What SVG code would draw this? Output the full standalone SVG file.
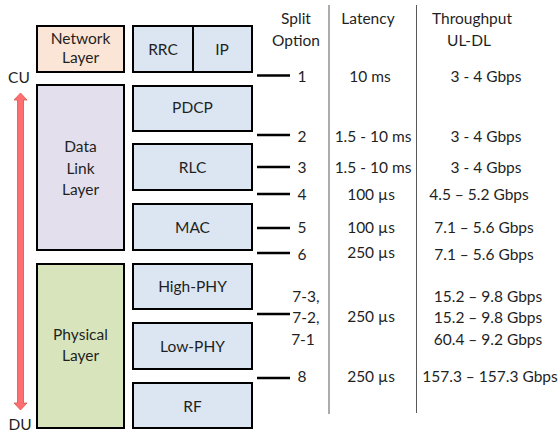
<svg xmlns="http://www.w3.org/2000/svg" width="560" height="435" viewBox="0 0 560 435">
<style>
text{font-family:Lato,"Liberation Sans",sans-serif;font-size:15.5px;fill:#1f1f1f;text-anchor:middle}
.box{stroke:#000;stroke-width:2}
.blue{fill:#dce6f2}
.split{stroke:#000;stroke-width:2.5}
.col{stroke:#595959;stroke-width:1}
</style>
<rect width="560" height="435" fill="#fff"/>
<g id="network-layer"><rect class="box" x="37" y="26" width="87" height="46" fill="#fbe5d6"/><text x="80.5" y="44">Network</text><text x="80.5" y="63">Layer</text></g>
<g id="data-link-layer"><rect class="box" x="37" y="85" width="87" height="165" fill="#e4dfec"/><text x="80.5" y="152">Data</text><text x="80.5" y="174">Link</text><text x="80.5" y="195">Layer</text></g>
<g id="physical-layer"><rect class="box" x="37" y="264" width="87" height="164" fill="#d8e4bc"/><text x="80.5" y="340">Physical</text><text x="80.5" y="361">Layer</text></g>
<g id="rrc-ip"><rect class="box blue" x="133" y="26" width="119" height="46"/><line x1="193" y1="26" x2="193" y2="72" stroke="#000" stroke-width="2"/><text x="163" y="55">RRC</text><text x="222" y="55">IP</text></g>
<g id="pdcp"><rect class="box blue" x="133" y="86" width="119" height="45"/><text x="192.5" y="113">PDCP</text></g>
<g id="rlc"><rect class="box blue" x="133" y="144" width="119" height="46"/><text x="192.5" y="173">RLC</text></g>
<g id="mac"><rect class="box blue" x="133" y="204" width="119" height="46"/><text x="192.5" y="233">MAC</text></g>
<g id="high-phy"><rect class="box blue" x="133" y="264" width="119" height="45"/><text x="192.5" y="292">High-PHY</text></g>
<g id="low-phy"><rect class="box blue" x="133" y="323" width="119" height="46"/><text x="192.5" y="352">Low-PHY</text></g>
<g id="rf"><rect class="box blue" x="133" y="383" width="119" height="45"/><text x="192.5" y="412">RF</text></g>
<g id="cu-du"><text x="19" y="83">CU</text><text x="20" y="430">DU</text>
<path d="M17.5 100 L14 100 L20.5 93 L27 100 L23.5 100 L23.5 403 L27 403 L20.5 410 L14 403 L17.5 403 Z" fill="#ff6f72" stroke="#d9534f" stroke-width="0.8"/></g>
<g id="connectors">
<line class="split" x1="257" y1="75.5" x2="290" y2="75.5"/>
<line class="split" x1="257" y1="135" x2="290" y2="135"/>
<line class="split" x1="257" y1="167" x2="290" y2="167"/>
<line class="split" x1="257" y1="194" x2="290" y2="194"/>
<line class="split" x1="257" y1="228" x2="290" y2="228"/>
<line class="split" x1="257" y1="253" x2="290" y2="253"/>
<line class="split" x1="257" y1="314" x2="290" y2="314"/>
<line class="split" x1="257" y1="378" x2="290" y2="378"/>
<line class="col" x1="329" y1="5" x2="329" y2="414"/>
<line class="col" x1="416.5" y1="5" x2="416.5" y2="413"/>
</g>
<g id="headers"><text x="296" y="24">Split</text><text x="296" y="46">Option</text><text x="368" y="24">Latency</text><text x="472" y="24">Throughput</text><text x="469" y="46">UL-DL</text></g>
<g id="split-options">
<text x="302" y="82">1</text><text x="302" y="142">2</text><text x="302" y="173">3</text><text x="302" y="200">4</text><text x="302" y="233">5</text><text x="302" y="260">6</text>
<text x="306" y="302">7-3,</text><text x="306" y="323">7-2,</text><text x="303" y="345">7-1</text><text x="302" y="382">8</text>
</g>
<g id="latency">
<text x="370" y="82">10 ms</text><text x="373" y="142">1.5 - 10 ms</text><text x="373" y="173">1.5 - 10 ms</text><text x="371" y="200">100 µs</text><text x="371" y="233">100 µs</text><text x="371" y="258">250 µs</text><text x="371" y="322">250 µs</text><text x="371" y="382">250 µs</text>
</g>
<g id="throughput">
<text x="486" y="82">3 - 4 Gbps</text><text x="486" y="142">3 - 4 Gbps</text><text x="486" y="173">3 - 4 Gbps</text><text x="479" y="200">4.5 – 5.2 Gbps</text><text x="484" y="233">7.1 – 5.6 Gbps</text><text x="484" y="260">7.1 – 5.6 Gbps</text>
<text x="488" y="302">15.2 – 9.8 Gbps</text><text x="488" y="323">15.2 – 9.8 Gbps</text><text x="488" y="345">60.4 – 9.2 Gbps</text><text x="490" y="382">157.3 – 157.3 Gbps</text>
</g>
</svg>
